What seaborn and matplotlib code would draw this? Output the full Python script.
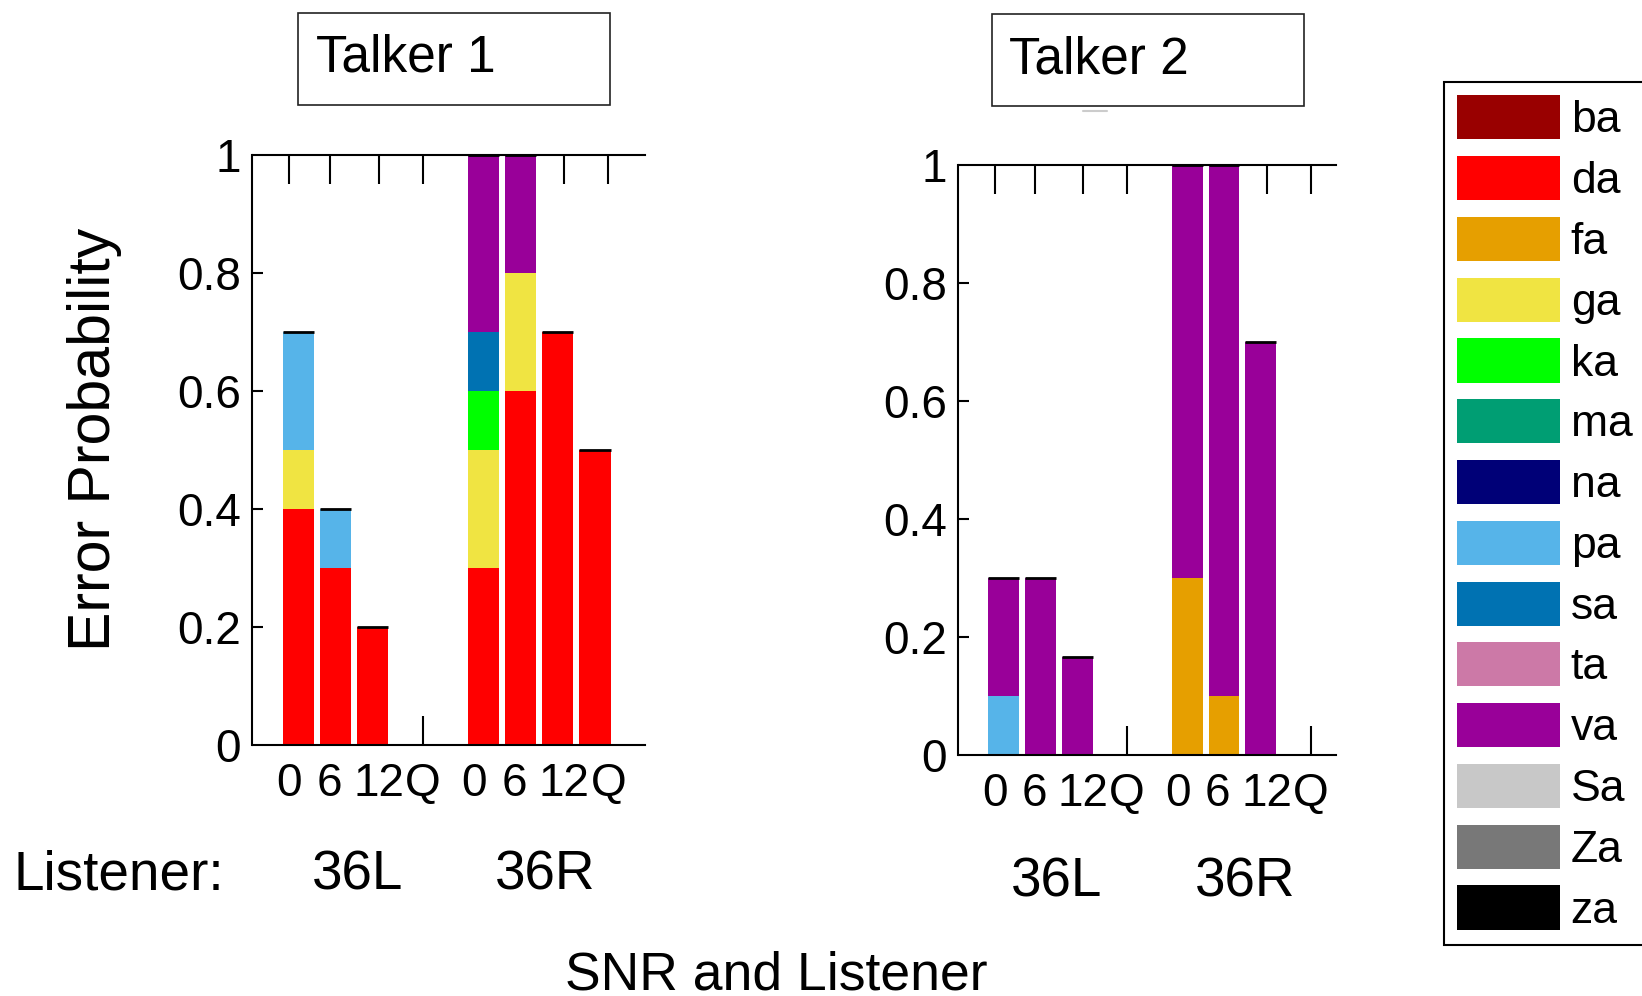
import numpy as np
import pandas as pd
import matplotlib
matplotlib.use("Agg")
import matplotlib.pyplot as plt
from matplotlib.patches import Patch, Rectangle
from matplotlib.lines import Line2D
import seaborn as sns

# Response categories and their colours (stacking order bottom -> top)
phonemes = ["ba", "da", "fa", "ga", "ka", "ma", "na", "pa", "sa", "ta", "va", "Sa", "Za", "za"]
phoneme_colors = ["#990000", "#ff0000", "#e69f00", "#f0e442", "#00ff00", "#009e73", "#000077",
                  "#56b4e9", "#0072b2", "#cc79a7", "#990099", "#c8c8c8", "#787878", "#000000"]

snr_labels = ["0", "6", "12", "Q"]
listeners = ["36L", "36R"]
bar_positions = [1, 2, 3, 4, 6, 7, 8, 9]
tick_positions = [0.75, 1.84, 3.17, 4.35, 5.74, 6.82, 8.17, 9.36]

# Error probabilities per condition: 36L (0, 6, 12, Q), 36R (0, 6, 12, Q)
t1_da = [0.4, 0.3, 0.2, 0.0, 0.3, 0.6, 0.7, 0.5]
t1_ga = [0.1, 0.0, 0.0, 0.0, 0.2, 0.2, 0.0, 0.0]
t1_ka = [0.0, 0.0, 0.0, 0.0, 0.1, 0.0, 0.0, 0.0]
t1_pa = [0.2, 0.1, 0.0, 0.0, 0.0, 0.0, 0.0, 0.0]
t1_sa = [0.0, 0.0, 0.0, 0.0, 0.1, 0.0, 0.0, 0.0]
t1_va = [0.0, 0.0, 0.0, 0.0, 0.3, 0.2, 0.0, 0.0]

t2_fa = [0.0, 0.0, 0.0, 0.0, 0.3, 0.1, 0.0, 0.0]
t2_pa = [0.1, 0.0, 0.0, 0.0, 0.0, 0.0, 0.0, 0.0]
t2_va = [0.2, 0.3, 0.1667, 0.0, 0.7, 0.9, 0.7, 0.0]

talker1 = {"da": t1_da, "ga": t1_ga, "ka": t1_ka, "pa": t1_pa, "sa": t1_sa, "va": t1_va}
talker2 = {"fa": t2_fa, "pa": t2_pa, "va": t2_va}

sns.set_theme(style="white")
plt.rcParams["font.family"] = ["Liberation Sans", "DejaVu Sans"]
plt.rcParams.update({"text.color": "black", "axes.labelcolor": "black",
                     "xtick.color": "black", "ytick.color": "black",
                     "axes.linewidth": 1.5})

W, H = 1642, 996
fig = plt.figure(figsize=(W / 100, H / 100), dpi=100)


def fx(px):
    return px / W


def fy(py):
    return 1 - py / H


palette = dict(zip(phonemes, phoneme_colors))
BAR_SHRINK = 0.84


def draw_panel(ax, table, xlim):
    rows = [(p, ph, v) for ph, vals in table.items()
            for p, v in zip(bar_positions, vals) if v > 0]
    df = pd.DataFrame(rows, columns=["position", "phoneme", "prob"])
    sns.histplot(data=df, x="position", weights="prob", hue="phoneme",
                 hue_order=phonemes[::-1], palette=palette, multiple="stack",
                 discrete=True, shrink=BAR_SHRINK, linewidth=0, alpha=1,
                 legend=False, ax=ax)
    # thin black cap on top of each stack
    totals = np.sum(np.array(list(table.values())), axis=0)
    pos = np.array(bar_positions, dtype=float)
    keep = totals > 0
    ax.hlines(totals[keep], pos[keep] - BAR_SHRINK / 2, pos[keep] + BAR_SHRINK / 2,
              color="black", linewidth=2.0, zorder=3)

    ax.set_xlim(*xlim)
    ax.set_ylim(0, 1)
    ax.set_xlabel("")
    ax.set_ylabel("")
    ax.set_axisbelow(True)
    ax.set_xticks(tick_positions)
    ax.set_xticklabels(snr_labels * len(listeners))
    ax.set_yticks([0, 0.2, 0.4, 0.6, 0.8, 1.0])
    ax.set_yticklabels(["0", "0.2", "0.4", "0.6", "0.8", "1"])
    ax.tick_params(axis="x", which="both", top=True, bottom=True, direction="in",
                   length=21, width=1.5, color="black", labelsize=33, pad=12)
    ax.tick_params(axis="y", left=True, right=False, direction="in",
                   length=8, width=1.5, color="black", labelsize=33, pad=8)
    ax.spines["right"].set_visible(False)
    ax.spines["left"].set_position(("outward", 8.5))
    for s in ("left", "top", "bottom"):
        ax.spines[s].set_color("black")
        ax.spines[s].set_linewidth(1.5)
    ax.grid(False)


ax1 = fig.add_axes([fx(264), fy(745), (645 - 264) / W, 590 / H])
ax2 = fig.add_axes([fx(970), fy(755), (1336 - 970) / W, 590 / H])
draw_panel(ax1, talker1, (0.07, 10.35))
draw_panel(ax2, talker2, (0.08, 10.05))

# Talker title boxes
for (x0, y0, x1, y1), title, tx, ty in [((298, 13, 610, 105), "Talker 1", 316, 72),
                                        ((992, 14, 1304, 106), "Talker 2", 1009, 73)]:
    fig.add_artist(Rectangle((fx(x0), fy(y1)), (x1 - x0) / W, (y1 - y0) / H,
                             transform=fig.transFigure, fill=False,
                             edgecolor="#222222", linewidth=1.2))
    fig.text(fx(tx), fy(ty), title, fontsize=37, ha="left", va="baseline")
fig.add_artist(Line2D([fx(1083), fx(1107)], [fy(111), fy(111)],
                      transform=fig.transFigure, color="#cccccc", linewidth=1.5))

# Group labels under each panel
fig.text(fx(14), fy(889), "Listener:", fontsize=39.5, ha="left", va="baseline")
for cx, cy, lab in [(358, 889, listeners[0]), (545, 889, listeners[1]),
                    (1057, 896, listeners[0]), (1245, 896, listeners[1])]:
    fig.text(fx(cx), fy(cy), lab, fontsize=39.5, ha="center", va="baseline")

fig.text(fx(94), fy(439), "Error Probability", fontsize=42.5, rotation=90,
         ha="center", va="center")
fig.text(fx(776), fy(989), "SNR and Listener", fontsize=38.5, ha="center", va="baseline")

# Legend of response categories
handles = [Patch(facecolor=c, edgecolor="none") for c in phoneme_colors]
leg = fig.legend(handles, phonemes, loc="upper left",
                 bbox_to_anchor=(fx(1444), fy(82)), bbox_transform=fig.transFigure,
                 borderaxespad=0, frameon=True, fancybox=False, framealpha=1,
                 edgecolor="black", fontsize=32, handlelength=2.3, handleheight=1.15,
                 labelspacing=0.33, handletextpad=0.25, borderpad=0.3)
leg.get_frame().set_linewidth(1.5)

fig.savefig("out.png", dpi=100, facecolor="white")
